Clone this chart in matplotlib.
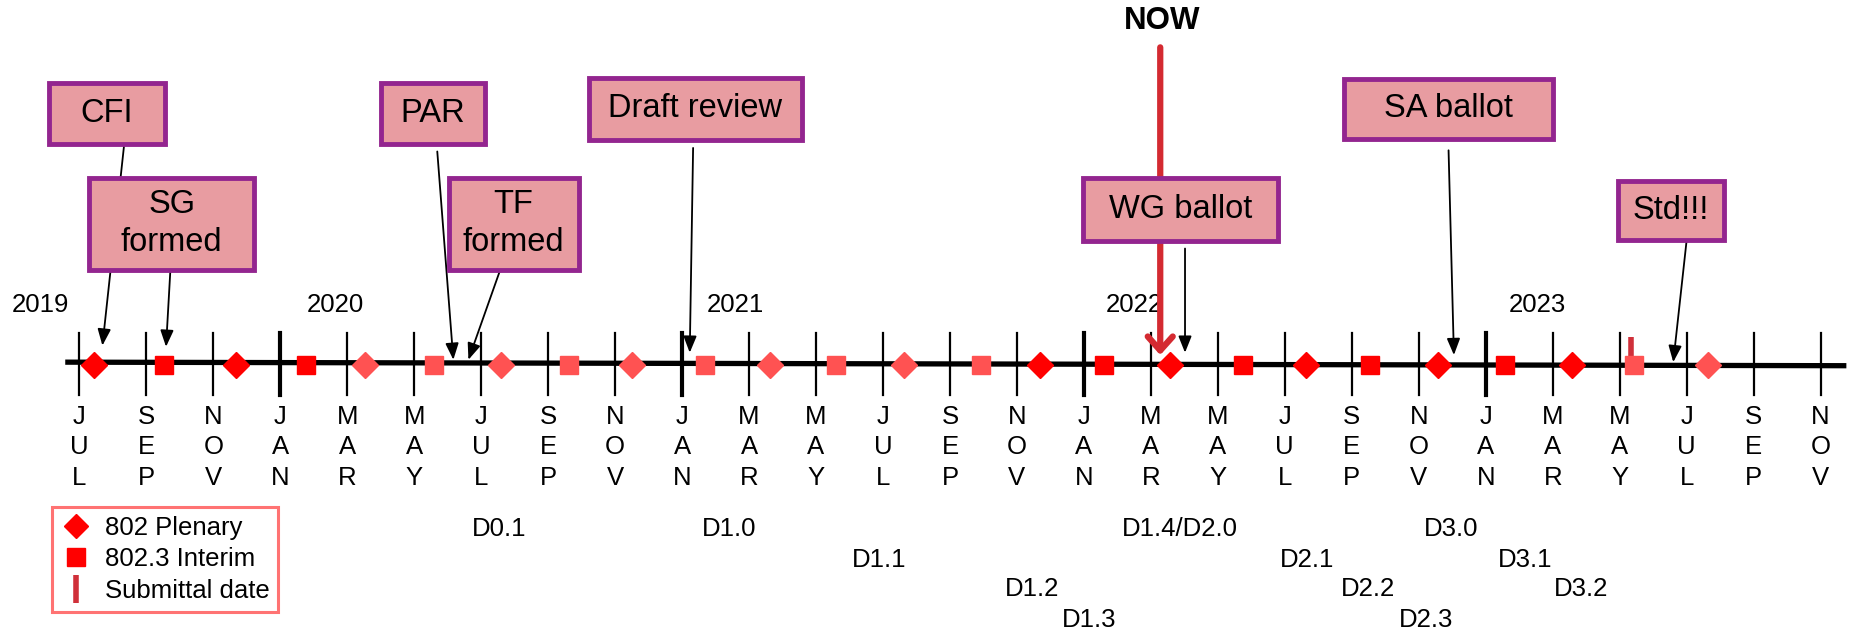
import numpy as np
import matplotlib.pyplot as plt
from matplotlib.lines import Line2D
from matplotlib.patches import Rectangle

plt.rcParams['font.family'] = ['Liberation Sans', 'DejaVu Sans']

# months counted from JUL 2019 (= 0), one tick every 2 months
tick_months = np.arange(0, 53, 2)
tick_labels = ['JUL', 'SEP', 'NOV', 'JAN', 'MAR', 'MAY',
               'JUL', 'SEP', 'NOV', 'JAN', 'MAR', 'MAY',
               'JUL', 'SEP', 'NOV', 'JAN', 'MAR', 'MAY',
               'JUL', 'SEP', 'NOV', 'JAN', 'MAR', 'MAY',
               'JUL', 'SEP', 'NOV']

years = ['2019', '2020', '2021', '2022', '2023']
year_months = [-1.17, 7.66, 19.6, 31.5, 43.54]

# meetings (plenary / interim), virtual ones drawn lighter
meeting_months = [0.45, 2.52, 4.68, 6.78, 8.53, 10.59, 12.6, 14.61, 16.51,
                  18.7, 20.63, 22.6, 24.62, 26.92, 28.69, 30.6, 32.56, 34.76,
                  36.63, 38.55, 40.57, 42.57, 44.58, 46.43, 48.64]
meeting_type = ['P', 'I'] * 12 + ['P']
meeting_virtual = [0, 0, 0, 0, 1, 1, 1, 1, 1, 1, 1, 1, 1, 1,
                   0, 0, 0, 0, 0, 0, 0, 0, 0, 1, 1]

submittal_month = 46.33
now_month = 32.28

# milestones: label, arrow start month, arrow tip month
ms_labels = ['CFI', 'SG\nformed', 'PAR', 'TF\nformed', 'Draft review',
             'WG ballot', 'SA ballot', 'Std!!!']
ms_start = [1.34, 2.72, 10.69, 12.57, 18.33, 33.02, 40.89, 48.0]
ms_tip = [0.69, 2.59, 11.17, 11.62, 18.23, 33.02, 41.05, 47.6]

# draft versions below the timeline
draft_labels = ['D0.1', 'D1.0', 'D1.1', 'D1.2', 'D1.3', 'D1.4/D2.0',
                'D2.1', 'D2.2', 'D2.3', 'D3.0', 'D3.1', 'D3.2']
draft_months = [12.53, 19.4, 23.9, 28.46, 30.17, 32.88,
                36.67, 38.48, 40.22, 40.98, 43.18, 44.85]
draft_rows = [0, 0, 1, 2, 3, 0, 1, 2, 3, 0, 1, 2]

# layout (screen units of a 1568x534 canvas)
PX = 28.29           # pixels per month
X0 = 67.0            # pixel position of JUL 2019
box_layout = {       # label: (centre month, centre y, width px, height px, arrow start y, tip y)
    'CFI': (0.83, 96, 98, 52, 122, 292),
    'SG\nformed': (2.76, 189, 139, 78, 228, 293),
    'PAR': (10.55, 96, 88, 52, 128, 304),
    'TF\nformed': (12.97, 189, 110, 78, 228, 304),
    'Draft review': (18.4, 92, 180, 52, 125, 298),
    'WG ballot': (32.88, 177, 165, 53, 210, 298),
    'SA ballot': (40.89, 92, 176, 51, 127, 300),
    'Std!!!': (47.53, 178, 90, 50, 203, 306),
}
row_y = [447, 473, 498, 524]
line_y = 307

bright = '#FF0000'
light = '#FF5252'
box_fill = '#E89CA1'
box_edge = '#93258F'
now_col = '#D42A31'

fig = plt.figure(figsize=(18.56, 6.32), dpi=100)
ax = fig.add_axes([0, 0, 1, 1])
ax.set_xlim(-X0 / PX, (1568 - X0) / PX)
ax.set_ylim(534, 0)
ax.axis('off')

# main line and ticks
ax.plot([-0.42, 52.77], [line_y - 1, line_y + 2], color='black', lw=3.8,
        zorder=2, solid_capstyle='butt')
for m, lab in zip(tick_months, tick_labels):
    lw = 3.0 if lab == 'JAN' else 1.6
    ax.plot([m, m], [281, 334], color='black', lw=lw, zorder=2)
    ax.text(m, 378, '\n'.join(lab), ha='center', va='center', fontsize=18.5,
            linespacing=1.36)

for y, m in zip(years, year_months):
    ax.text(m, 258, y, ha='center', va='center', fontsize=18.5)

# meetings
for m, t, v in zip(meeting_months, meeting_type, meeting_virtual):
    col = light if v else bright
    if t == 'P':
        ax.plot(m, line_y + 1, marker='D', ms=13, color=col, mec=col, zorder=5)
    else:
        ax.plot(m, line_y + 1, marker='s', ms=13.5, color=col, mec=col, zorder=5)

ax.plot([submittal_month, submittal_month], [285, 304], color='#D0303A', lw=4,
        zorder=4, solid_capstyle='butt')

# NOW arrow
ax.annotate('', xy=(now_month, 300), xytext=(now_month, 40),
            arrowprops=dict(arrowstyle='->,head_length=1.0,head_width=0.9',
                            color=now_col, lw=4.5, shrinkA=0, shrinkB=0),
            zorder=3)
ax.text(now_month + 0.05, 18, 'NOW', ha='center', va='center', fontsize=22.5,
        fontweight='bold')

# milestone boxes and arrows
for lab, s, tp in zip(ms_labels, ms_start, ms_tip):
    cx, cy, w, h, sy, ty = box_layout[lab]
    ax.annotate('', xy=(tp, ty), xytext=(s, sy),
                arrowprops=dict(arrowstyle='-|>,head_length=0.5,head_width=0.2',
                                color='black', lw=1.3, shrinkA=0, shrinkB=0,
                                mutation_scale=20),
                zorder=2)
    ax.add_patch(Rectangle((cx - w / PX / 2, cy - h / 2), w / PX, h,
                           facecolor=box_fill, edgecolor=box_edge, lw=3.5,
                           zorder=6))
    ax.text(cx, cy, lab, ha='center', va='center', fontsize=23.5,
            linespacing=1.3, zorder=7)

# draft versions
for lab, m, r in zip(draft_labels, draft_months, draft_rows):
    ax.text(m, row_y[r], lab, ha='center', va='center', fontsize=18.5)

# legend
handles = [
    Line2D([], [], marker='D', ls='none', color=bright, ms=12),
    Line2D([], [], marker='s', ls='none', color=bright, ms=13),
    Line2D([], [], marker='|', ls='none', color='#D0303A', ms=20, mew=4),
]
leg = ax.legend(handles, ['802 Plenary', '802.3 Interim', 'Submittal date'],
                loc='upper left', bbox_to_anchor=(44 / 1568, 1 - 428 / 534),
                fontsize=18.5, frameon=True, fancybox=False, handlelength=1.2,
                handletextpad=0.5, borderpad=0.35, labelspacing=0.3,
                borderaxespad=0)
leg.get_frame().set_edgecolor('#FF5050')
leg.get_frame().set_linewidth(2.2)

fig.savefig('out.png', dpi=100)
